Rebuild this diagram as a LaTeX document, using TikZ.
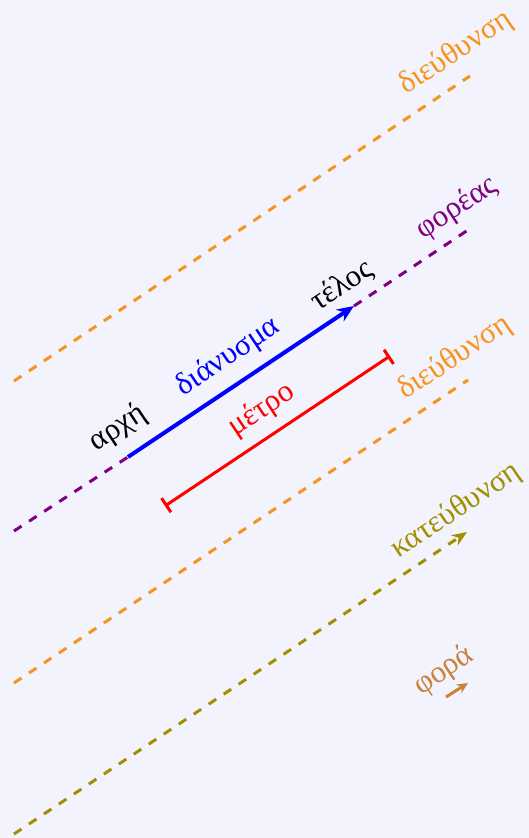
\documentclass[tikz,border=0pt]{standalone}
\usepackage{fontspec}
\setmainfont{Liberation Serif}
\usetikzlibrary{arrows.meta}
\definecolor{bg}{RGB}{243,243,253}
\definecolor{orng}{RGB}{247,148,29}
\definecolor{purp}{RGB}{128,0,128}
\definecolor{olv}{RGB}{160,144,0}
\definecolor{phora}{RGB}{200,130,60}
\begin{document}
\begin{tikzpicture}[x=1pt,y=-1pt,
  lbl/.style={rotate=33.69, font=\fontsize{31}{36}\selectfont, inner sep=0pt},
  dline/.style={line width=3pt, dash pattern=on 9pt off 9pt}]
\fill[bg] (0,0) rectangle (529,838);
\useasboundingbox (0,0) rectangle (529,838);
% endpoints
\coordinate (o1s) at (14,381); \coordinate (o1e) at (470,76);
\coordinate (ps) at (14,531); \coordinate (pe) at (468,230);
\coordinate (o2s) at (14,683); \coordinate (o2e) at (468,380);
\coordinate (ks) at (14,834); \coordinate (ke) at (467,532);
\coordinate (va) at (128,457); \coordinate (vb) at (354,306);
\coordinate (ms) at (165,506); \coordinate (me) at (390,356);
\coordinate (fs) at (446,697); \coordinate (fe) at (468,683);
% lines
\draw[dline, orng] (o1s) -- (o1e);
\draw[dline, purp] (ps) -- (va);
\draw[dline, purp] (vb) -- (pe);
\draw[dline, orng] (o2s) -- (o2e);
\draw[dline, olv, -{Stealth[length=15pt,width=12pt]}] (ks) -- (ke);
\draw[blue, line width=4pt, -{Stealth[length=17pt,width=14pt]}] (va) -- (vb);
\draw[red, line width=3pt, {Bar[width=17pt]}-{Bar[width=17pt]}] (ms) -- (me);
\draw[phora, line width=3pt, -{Stealth[length=11pt,width=10pt]}] (fs) -- (fe);
% labels
\node[lbl, orng] (t1) at (456,53) {διεύθυνση};
\node[lbl, purp] (t2) at (457,208) {φορέας};
\node[lbl] (t3) at (342,286) {τέλος};
\node[lbl, blue] (t4) at (228,357) {διάνυσμα};
\node[lbl] (t5) at (118,428) {αρχή};
\node[lbl, red] (t6) at (262,410) {μέτρο};
\node[lbl, orng] (t7) at (455,358) {διεύθυνση};
\node[lbl, olv] (t8) at (456,511) {κατεύθυνση};
\node[lbl, phora] (t9) at (444,671) {φορά};
\end{tikzpicture}
\end{document}
